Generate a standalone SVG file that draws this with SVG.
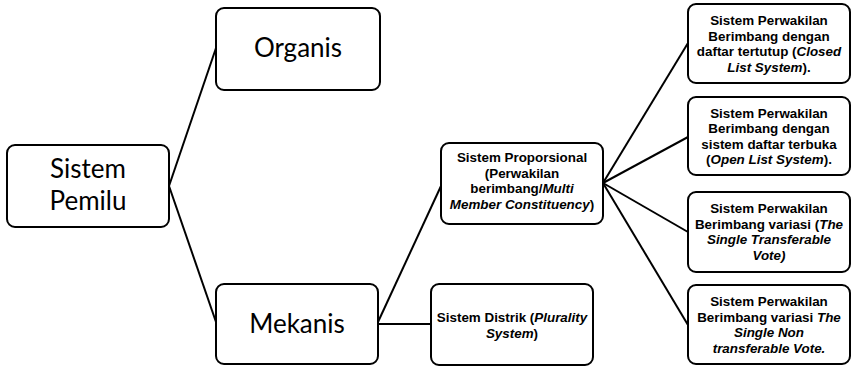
<svg xmlns="http://www.w3.org/2000/svg" width="851" height="366" viewBox="0 0 851 366">
<style>
.box{fill:#fff;stroke:#000;stroke-width:2}
.big{font-family:Lato,"Liberation Sans",sans-serif;font-size:26px;fill:#000;text-anchor:middle}
.sm{font-family:"Liberation Sans",Arial,sans-serif;font-size:13.4px;font-weight:bold;fill:#000;text-anchor:middle}
.it{font-style:italic}
#connectors line{stroke:#000;stroke-width:2}
</style>
<rect width="851" height="366" fill="#fff"/>
<g id="connectors">
<line x1="169" y1="186" x2="216" y2="48"/>
<line x1="169" y1="186" x2="216" y2="322"/>
<line x1="378" y1="322" x2="441" y2="186"/>
<line x1="378" y1="324" x2="431" y2="324"/>
<line x1="603" y1="183" x2="688" y2="43"/>
<line x1="603" y1="183" x2="688" y2="137"/>
<line x1="603" y1="183" x2="688" y2="232"/>
<line x1="603" y1="183" x2="688" y2="325"/>
</g>
<g id="pemilu">
<rect class="box" x="7" y="145" width="162" height="82" rx="8"/>
<text class="big" x="88" y="177.5">Sistem</text>
<text class="big" x="88" y="209.5">Pemilu</text>
</g>
<g id="organis">
<rect class="box" x="216" y="8" width="164" height="82" rx="8"/>
<text class="big" x="298" y="57">Organis</text>
</g>
<g id="mekanis">
<rect class="box" x="216" y="284" width="162" height="80" rx="8"/>
<text class="big" x="297" y="333">Mekanis</text>
</g>
<g id="proporsional">
<rect class="box" x="441" y="143" width="162" height="81" rx="8"/>
<text class="sm" x="522" y="162">Sistem Proporsional</text>
<text class="sm" x="522" y="177.6">(Perwakilan</text>
<text class="sm" x="522" y="193.2">berimbang/<tspan class="it">Multi</tspan></text>
<text class="sm" x="522" y="208.8"><tspan class="it">Member Constituency</tspan>)</text>
</g>
<g id="distrik">
<rect class="box" x="431" y="284" width="162" height="81" rx="8"/>
<text class="sm" x="512" y="322">Sistem Distrik (<tspan class="it">Plurality</tspan></text>
<text class="sm" x="512" y="337.6"><tspan class="it">System</tspan>)</text>
</g>
<g id="closed">
<rect class="box" x="688" y="4" width="162" height="79" rx="8"/>
<text class="sm" x="769" y="25">Sistem Perwakilan</text>
<text class="sm" x="769" y="40.6">Berimbang dengan</text>
<text class="sm" x="769" y="56.2">daftar tertutup (<tspan class="it">Closed</tspan></text>
<text class="sm" x="769" y="71.8"><tspan class="it">List System</tspan>).</text>
</g>
<g id="open">
<rect class="box" x="688" y="97" width="162" height="78" rx="8"/>
<text class="sm" x="769" y="117.5">Sistem Perwakilan</text>
<text class="sm" x="769" y="133.1">Berimbang dengan</text>
<text class="sm" x="769" y="148.7">sistem daftar terbuka</text>
<text class="sm" x="769" y="164.3">(<tspan class="it">Open List System</tspan>).</text>
</g>
<g id="stv">
<rect class="box" x="688" y="192" width="162" height="80" rx="8"/>
<text class="sm" x="769" y="213">Sistem Perwakilan</text>
<text class="sm" x="769" y="228.6">Berimbang variasi (<tspan class="it">The</tspan></text>
<text class="sm" x="769" y="244.2"><tspan class="it">Single Transferable</tspan></text>
<text class="sm" x="769" y="259.8"><tspan class="it">Vote)</tspan></text>
</g>
<g id="sntv">
<rect class="box" x="688" y="285" width="162" height="79" rx="8"/>
<text class="sm" x="769" y="306">Sistem Perwakilan</text>
<text class="sm" x="769" y="321.6">Berimbang variasi <tspan class="it">The</tspan></text>
<text class="sm" x="769" y="337.2"><tspan class="it">Single Non</tspan></text>
<text class="sm" x="769" y="352.8"><tspan class="it">transferable Vote.</tspan></text>
</g>
</svg>
